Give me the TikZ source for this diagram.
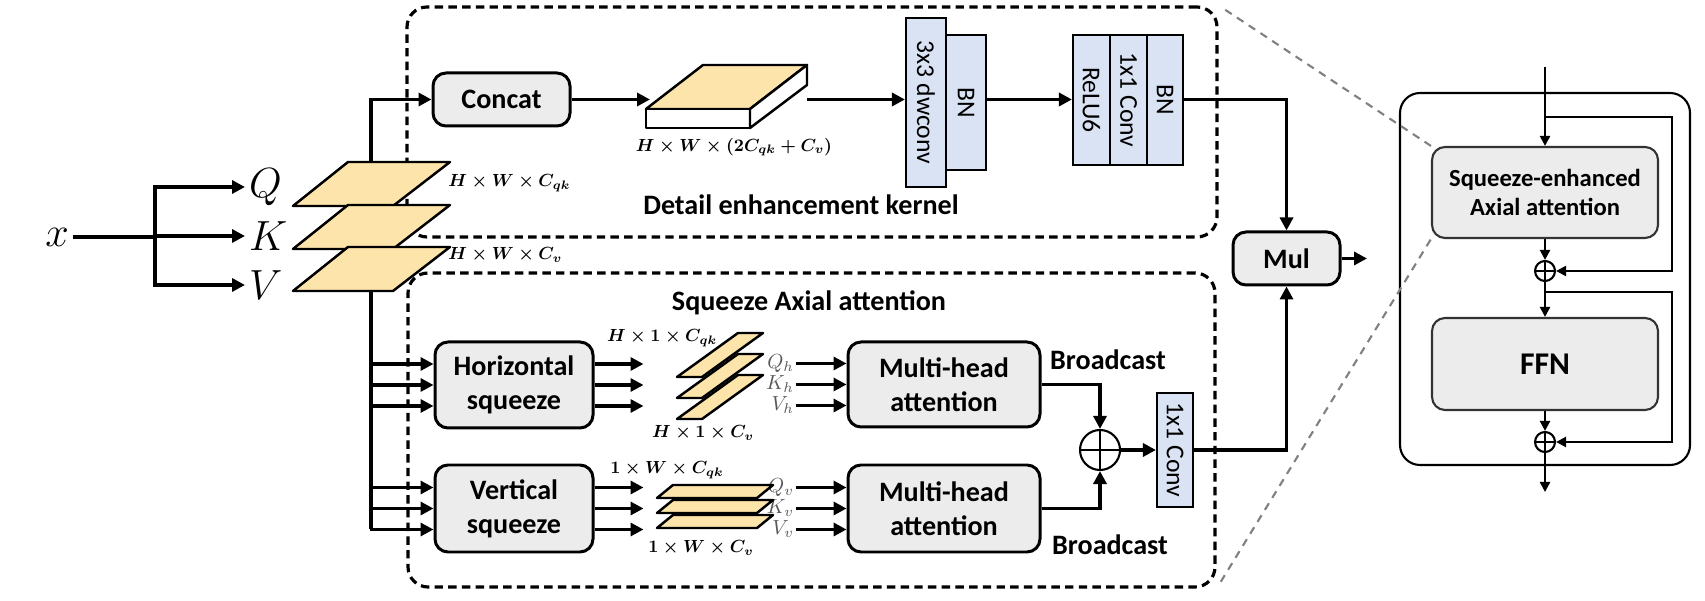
\documentclass[tikz,border=0pt]{standalone}
\usepackage{fontspec}
\setmainfont{Carlito}
\usetikzlibrary{arrows.meta}

\definecolor{boxgray}{RGB}{236,236,236}
\definecolor{convblue}{RGB}{218,227,243}
\definecolor{planefill}{RGB}{252,228,170}

\tikzset{
  conn/.style={line width=1.1pt},
  arr/.style={conn,-{Triangle[length=1.3mm,width=1.3mm]}},
  thinarr/.style={line width=0.65pt,-{Triangle[length=1mm,width=1mm]}},
  box/.style={draw,line width=0.85pt,rounded corners=1.3mm,fill=boxgray,align=center,
    font=\bfseries\fontsize{8}{9.6}\selectfont},
  blk/.style={draw,line width=0.6pt,fill=convblue,rotate=-90,inner sep=0pt,
    font=\fontsize{7.3}{8}\selectfont},
  plane/.style={draw,line width=0.7pt,fill=planefill,line join=round},
  group/.style={draw,line width=0.9pt,dash pattern=on 2.4pt off 1.5pt,rounded corners=2mm},
  oplus/.style={circle,draw,line width=0.6pt,inner sep=0pt,
    path picture={\draw[line width=0.6pt] (path picture bounding box.north) -- (path picture bounding box.south)
      (path picture bounding box.west) -- (path picture bounding box.east);}},
  dimlab/.style={inner sep=0pt,scale=0.5,font=\fontsize{10}{12}\selectfont\boldmath},
  qkv/.style={inner sep=1pt,font=\fontsize{11.5}{13}\selectfont},
  sublab/.style={inner sep=0.2pt,scale=0.58,text=black!65,font=\fontsize{10}{12}\selectfont},
  grouptitle/.style={inner sep=0pt,font=\bfseries\fontsize{8}{9.6}\selectfont},
  zoomline/.style={gray,line width=0.6pt,dash pattern=on 2.2pt off 1.8pt},
}

\begin{document}
\begin{tikzpicture}[x=0.1mm,y=-0.1mm]
\useasboundingbox (0,0) rectangle (1705,601);

% dashed groups
\node[group,minimum width=81mm,minimum height=23mm] (dek) at (812,122) {};
\node[group,minimum width=80.7mm,minimum height=31.4mm] (saa) at (811.5,430) {};
\node[grouptitle] (dektitle) at (801,205) {Detail enhancement kernel};
\node[grouptitle] (saatitle) at (809,303) {Squeeze Axial attention};

% input
\node[qkv] (xin) at (57,237) {$x$};
\coordinate (split) at (155,237);
\node[qkv,anchor=west] (q) at (245,187) {$Q$};
\node[qkv,anchor=west] (k) at (245,236) {$K$};
\node[qkv,anchor=west] (v) at (245,285) {$V$};
\draw[conn] (xin) -- (split);
\foreach \n in {q,k,v}
    \draw[arr] (split) |- (\n.west);

% boxes
\node[box,minimum width=13.7mm,minimum height=5.3mm] (concat) at (501.5,99.5) {Concat};
\node[box,minimum width=15.8mm,minimum height=8.6mm] (hsq) at (514,385) {Horizontal\\squeeze};
\node[box,minimum width=15.8mm,minimum height=8.7mm] (vsq) at (514,508.5) {Vertical\\squeeze};
\node[box,minimum width=19.2mm,minimum height=8.5mm] (mhah) at (944,384.5) {Multi-head\\attention};
\node[box,minimum width=19.2mm,minimum height=8.7mm] (mhav) at (944,508.5) {Multi-head\\attention};
\node[box,minimum width=10.7mm,minimum height=5.3mm] (mul) at (1286.5,258.5) {Mul};
\node[oplus,minimum size=4mm] (plus) at (1100,450) {};

\node[blk,minimum width=16.9mm,minimum height=4mm] (dwconv) at (926,102.5) {3x3 dwconv};
\node[blk,minimum width=13.5mm,minimum height=4mm] (bn1) at (966,102.5) {BN};
\node[blk,minimum width=13mm,minimum height=3.7mm] (relu) at (1091.5,100) {ReLU6};
\node[blk,minimum width=13mm,minimum height=3.7mm] (conv1) at (1128.5,100) {1x1 Conv};
\node[blk,minimum width=13mm,minimum height=3.6mm] (bn2) at (1165,100) {BN};
\node[blk,minimum width=11.4mm,minimum height=3.6mm] (conv2) at (1175,450) {1x1 Conv};

% trunk
\coordinate (trunk) at (371,529.5);
\draw[arr] (trunk) |- (concat.west);
\foreach \d in {2.1,0,-2.1}{
    \draw[arr] ([xshift=-6.4mm,yshift=\d mm]hsq.west) -- ([yshift=\d mm]hsq.west);
    \draw[arr] ([xshift=-6.4mm,yshift=\d mm]vsq.west) -- ([yshift=\d mm]vsq.west);
    \draw[arr] ([yshift=\d mm]hsq.east) -- ++(4.9mm,0);
    \draw[arr] ([yshift=\d mm]vsq.east) -- ++(4.9mm,0);
}
\foreach \d/\s/\nm in {2.1/Q_h/qh,0/K_h/kh,-2.1/V_h/vh}
    \draw[arr] ([xshift=-5.1mm,yshift=\d mm]mhah.west) node[sublab,left] (\nm) {$\s$} -- ([yshift=\d mm]mhah.west);
\foreach \d/\s/\nm in {2.1/Q_v/qv,0/K_v/kv,-2.1/V_v/vv}
    \draw[arr] ([xshift=-5.1mm,yshift=\d mm]mhav.west) node[sublab,left] (\nm) {$\s$} -- ([yshift=\d mm]mhav.west);

% tensors
\foreach \dy in {0,43,85}
    \filldraw[plane] (293,{206+\dy}) -- (393,{206+\dy}) -- (450,{162+\dy}) -- (348,{162+\dy}) -- cycle;
\foreach \dy in {0,21,42}
    \filldraw[plane] (677,{377+\dy}) -- (702,{377+\dy}) -- (763,{333+\dy}) -- (738,{333+\dy}) -- cycle;
\foreach \dy in {0,15,30}
    \filldraw[plane] (657,{498+\dy}) -- (757,{498+\dy}) -- (773,{485+\dy}) -- (673,{485+\dy}) -- cycle;
\filldraw[plane] (646,109) -- (703,65) -- (807,65) -- (750,109) -- cycle;
\filldraw[plane,fill=white] (646,109) rectangle (750,128);
\filldraw[plane,fill=white] (750,109) -- (807,65) -- (807,85) -- (750,128) -- cycle;
\coordinate (slabin) at (650,99.5);
\coordinate (slabout) at (807,99.5);

\node[dimlab,anchor=west] (dqk) at (448,183) {$H\times W\times C_{qk}$};
\node[dimlab,anchor=west] (dv) at (448,255) {$H\times W\times C_{v}$};
\node[dimlab] (dcat) at (734,147) {$H\times W\times (2C_{qk}+C_{v})$};
\node[dimlab] (dhqk) at (662,338) {$H\times 1\times C_{qk}$};
\node[dimlab] (dhv) at (703,433) {$H\times 1\times C_{v}$};
\node[dimlab] (dwqk) at (667,470) {$1\times W\times C_{qk}$};
\node[dimlab] (dwv) at (701,548) {$1\times W\times C_{v}$};

% detail branch
\draw[arr] (concat.east) -- (slabin);
\draw[arr] (slabout) -- (slabout -| dwconv.south);
\draw[arr] (bn1.north |- slabout) -- (relu.south |- slabout);
\draw[arr] (bn2.north |- slabout) -| (mul.north);

% axial branch
\node[grouptitle] (bch) at (1108,360) {Broadcast};
\node[grouptitle] (bcv) at (1110,545) {Broadcast};
\draw[arr] (mhah.east) -| (plus.north);
\draw[arr] (mhav.east) -| (plus.south);
\draw[arr] (plus) -- (conv2.south);
\draw[arr] (conv2.north) -| (mul.south);
\coordinate (mulout) at (1367,258.5);
\draw[arr] (mul.east) -- (mulout);

% block
\node[draw,line width=0.6pt,rounded corners=2mm,minimum width=29mm,minimum height=37.2mm] (encoder) at (1545,279) {};
\node[box,line width=0.6pt,draw=black!80,minimum width=22.6mm,minimum height=9.1mm,
      font=\bfseries\fontsize{7}{8.4}\selectfont] (sea) at (1545,192.5) {Squeeze-enhanced\\Axial attention};
\node[box,line width=0.6pt,draw=black!80,minimum width=22.6mm,minimum height=9.2mm,
      font=\bfseries\fontsize{9}{10}\selectfont] (ffn) at (1545,364) {FFN};
\node[oplus,minimum size=2mm] (p1) at (1545,271) {};
\node[oplus,minimum size=2mm] (p2) at (1545,442) {};
\coordinate (encin) at (1545,67);
\coordinate (encout) at (1545,492);
\coordinate (res1) at (1545,117);
\coordinate (res2) at (1545,292);
\draw[thinarr] (encin) -- (sea.north);
\draw[thinarr] (res1) -- ++(12.7mm,0) |- (p1.east);
\draw[thinarr] (sea.south) -- (p1.north);
\draw[thinarr] (p1.south) -- (ffn.north);
\draw[thinarr] (res2) -- ++(12.7mm,0) |- (p2.east);
\draw[thinarr] (ffn.south) -- (p2.north);
\draw[thinarr] (p2.south) -- (encout);

\draw[zoomline,shorten <=0.8mm] (dek.north east) -- (sea.north west);
\draw[zoomline,shorten <=0.8mm] (saa.south east) -- (sea.south west);
\end{tikzpicture}
\end{document}
